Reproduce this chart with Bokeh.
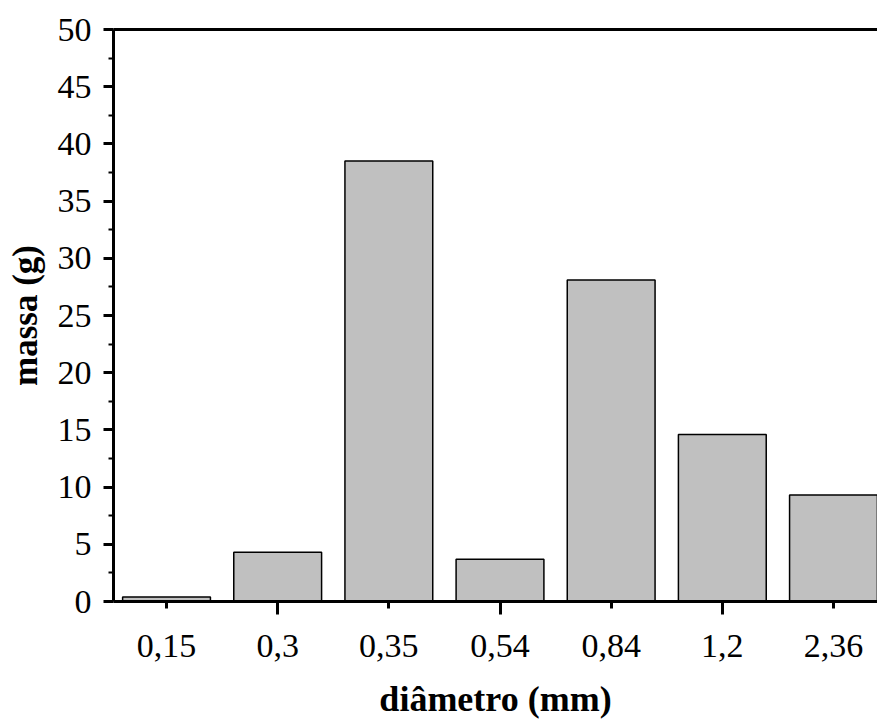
from bokeh.plotting import figure
from bokeh.models import (Range1d, LinearAxis, FixedTicker)
from bokeh.embed import file_html
from bokeh.resources import INLINE

categories = ["0,15", "0,3", "0,35", "0,54", "0,84", "1,2", "2,36"]
massa = [0.4, 4.3, 38.5, 3.7, 28.1, 14.6, 9.3]
y_ticks = [0, 5, 10, 15, 20, 25, 30, 35, 40, 45, 50]

pos = list(range(1, len(categories) + 1))
FONT = "Liberation Serif"

p = figure(width=877, height=722, output_backend="svg", toolbar_location=None,
           x_range=Range1d(0.523, 7.396), y_range=Range1d(0, 50),
           min_border_left=113, min_border_top=29, min_border_right=0,
           min_border_bottom=121, x_axis_type=None)
p.outline_line_color = None
p.grid.grid_line_color = None
p.background_fill_color = "white"
p.border_fill_color = "white"

p.vbar(x=pos, top=massa, width=0.79, bottom=0, fill_color="#C0C0C0",
       line_color="black", line_width=1.5)

# tick axis (x)
xa = LinearAxis(ticker=FixedTicker(ticks=[2, 4, 6], minor_ticks=[1, 3, 5, 7]))
xa.axis_line_width = 3
xa.major_tick_line_width = 3
xa.minor_tick_line_width = 3
xa.major_tick_out = 13
xa.major_tick_in = 0
xa.minor_tick_out = 7
xa.minor_tick_in = 0
xa.major_label_overrides = {2: "", 4: "", 6: ""}
xa.major_label_text_font_size = "2px"
xa.major_label_standoff = 0
p.add_layout(xa, "below")

# label axis (x)
xl = LinearAxis(ticker=FixedTicker(ticks=pos))
xl.axis_line_color = None
xl.major_tick_line_color = None
xl.minor_tick_line_color = None
xl.major_tick_out = 0
xl.major_tick_in = 0
xl.major_label_overrides = {i: c for i, c in zip(pos, categories)}
xl.major_label_text_font = FONT
xl.major_label_text_font_size = "34px"
xl.major_label_text_color = "black"
xl.major_label_standoff = 20
xl.axis_label = "diâmetro (mm)"
xl.axis_label_text_font = FONT
xl.axis_label_text_font_style = "bold"
xl.axis_label_text_font_size = "36px"
xl.axis_label_text_color = "black"
xl.axis_label_standoff = 19
p.add_layout(xl, "below")

# top border
ta = LinearAxis(ticker=FixedTicker(ticks=[]))
ta.axis_line_width = 3
ta.major_tick_out = 0
ta.major_tick_in = 0
ta.minor_tick_out = 0
p.add_layout(ta, "above")

ya = p.yaxis[0]
ya.ticker = FixedTicker(ticks=y_ticks, minor_ticks=[v + 2.5 for v in y_ticks[:-1]])
ya.axis_line_width = 3
ya.major_tick_line_width = 3
ya.minor_tick_line_width = 2
ya.major_tick_out = 10
ya.major_tick_in = 0
ya.minor_tick_out = 5
ya.minor_tick_in = 0
ya.major_label_text_font = FONT
ya.major_label_text_font_size = "34px"
ya.major_label_text_color = "black"
ya.major_label_standoff = 12
ya.axis_label = "massa (g)"
ya.axis_label_text_font = FONT
ya.axis_label_text_font_style = "bold"
ya.axis_label_text_font_size = "35px"
ya.axis_label_text_color = "black"
ya.axis_label_standoff = 10

open("out.html", "w").write(file_html(p, INLINE))
